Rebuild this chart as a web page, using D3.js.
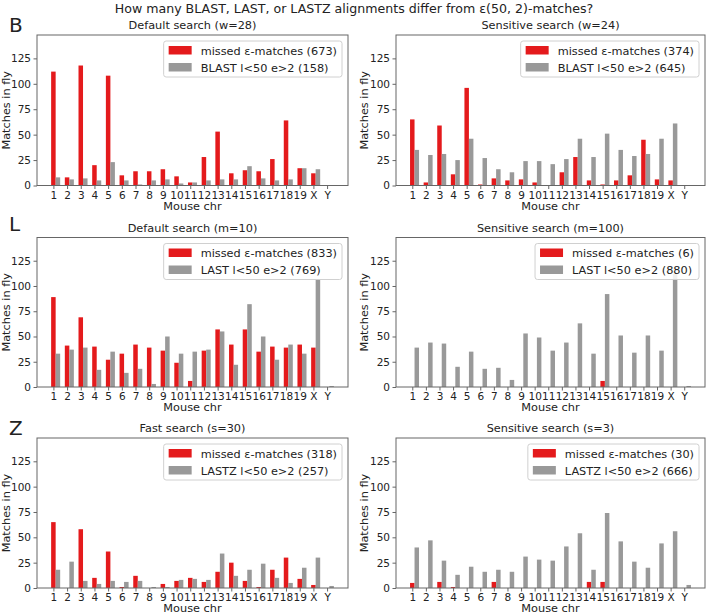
<!DOCTYPE html>
<html>
<head>
<meta charset="utf-8">
<script src="https://cdn.jsdelivr.net/npm/d3@7"></script>
<style>
html,body{margin:0;padding:0;background:#fff;}
text{font-family:"DejaVu Sans",sans-serif;fill:#222;}
</style>
</head>
<body>
<svg id="chart" width="708" height="614"></svg>
<script>
const chromosomes = ["1","2","3","4","5","6","7","8","9","10","11","12","13","14","15","16","17","18","19","X","Y"];
const yTicks = [0, 25, 50, 75, 100, 125];

const blastDefaultMissed = [112,8,118,20,108,10,14,14,16,9,3,28,53,12,15,14,26,64,17,12,0];
const blastDefaultDiff   = [8,6,7,5,23,5,1,5,6,2,3,5,6,6,19,7,5,6,17,16,0];
const blastSensMissed    = [65,3,59,11,96,1,7,5,6,3,0,13,28,5,1,5,10,45,6,5,0];
const blastSensDiff      = [35,30,31,25,46,27,16,13,24,24,21,26,46,28,51,35,29,31,46,61,0];
const lastDefaultMissed  = [89,41,69,40,27,33,42,39,36,24,6,36,57,42,57,35,40,39,42,39,0];
const lastDefaultDiff    = [33,37,39,17,35,14,18,3,50,33,35,37,55,22,82,50,27,42,33,106,1];
const lastSensMissed     = [0,0,0,0,0,0,0,0,0,0,0,0,0,0,6,0,0,0,0,0,0];
const lastSensDiff       = [39,44,43,20,35,18,19,7,53,49,36,44,63,33,92,51,34,51,36,112,1];
const lastzFastMissed    = [65,0,58,10,36,1,12,0,4,7,10,6,16,25,7,1,18,30,9,3,0];
const lastzFastDiff      = [18,26,7,4,7,6,7,1,1,8,9,8,34,12,18,24,10,5,20,30,2];
const lastzSensMissed    = [5,0,6,1,0,0,6,0,0,0,0,0,0,6,6,0,0,0,0,0,0];
const lastzSensDiff      = [40,47,27,13,21,16,18,16,31,28,27,41,54,18,74,46,26,20,44,56,3];

const panelTitles = ["Default search (w=28)","Sensitive search (w=24)","Default search (m=10)","Sensitive search (m=100)","Fast search (s=30)","Sensitive search (s=3)"];
const missedLabels = ["missed ε-matches (673)","missed ε-matches (374)","missed ε-matches (833)","missed ε-matches (6)","missed ε-matches (318)","missed ε-matches (30)"];
const diffLabels = ["BLAST l<50 e>2 (158)","BLAST l<50 e>2 (645)","LAST l<50 e>2 (769)","LAST l<50 e>2 (880)","LASTZ l<50 e>2 (257)","LASTZ l<50 e>2 (666)"];
const rowLetters = ["B","L","Z"];
const missedSeries = [blastDefaultMissed,blastSensMissed,lastDefaultMissed,lastSensMissed,lastzFastMissed,lastzSensMissed];
const diffSeries = [blastDefaultDiff,blastSensDiff,lastDefaultDiff,lastSensDiff,lastzFastDiff,lastzSensDiff];

const RED = "#e41a1c", GRAY = "#999999", SPINE = "#666";
const cols = [{l:37, r:348, yl:6.5}, {l:396, r:705, yl:364.5}];
const rows = [{t:35, b:185.5, letterY:32}, {t:237.5, b:387, letterY:231}, {t:438, b:588, letterY:435}];
const barW = 0.33;

const svg = d3.select("#chart");
svg.append("text").attr("x",354).attr("y",13).attr("text-anchor","middle")
  .style("font-size","12.6px").text("How many BLAST, LAST, or LASTZ alignments differ from ε(50, 2)-matches?");

rows.forEach((row, ri) => {
  svg.append("text").attr("x",9).attr("y",row.letterY).style("font-size","20px").text(rowLetters[ri]);
  cols.forEach((col, ci) => {
    const pi = ri*2 + ci;
    const x = d3.scaleLinear().domain([-1.198, 21.528]).range([col.l, col.r]);
    const y = d3.scaleLinear().domain([0, 148]).range([row.b, row.t]);
    const g = svg.append("g");
    const data = chromosomes.map((c,i)=>({c, i, m: missedSeries[pi][i], d: diffSeries[pi][i]}));
    g.selectAll("rect.m").data(data).join("rect").attr("class","m")
      .attr("x", d => x(d.i - barW/2)).attr("width", x(barW) - x(0))
      .attr("y", d => y(d.m)).attr("height", d => y(0) - y(d.m)).attr("fill", RED);
    g.selectAll("rect.d").data(data).join("rect").attr("class","d")
      .attr("x", d => x(d.i + barW/2)).attr("width", x(barW) - x(0))
      .attr("y", d => y(d.d)).attr("height", d => y(0) - y(d.d)).attr("fill", GRAY);
    g.append("rect").attr("x",col.l).attr("y",row.t).attr("width",col.r-col.l).attr("height",row.b-row.t)
      .attr("fill","none").attr("stroke",SPINE).attr("stroke-width",1);
    const ya = g.append("g").attr("transform",`translate(${col.l},0)`)
      .call(d3.axisLeft(y).tickValues(yTicks).tickSize(3.5).tickPadding(2.5));
    ya.select(".domain").remove();
    ya.selectAll("line").attr("stroke",SPINE);
    ya.selectAll("text").style("font-size","10.5px").attr("fill","#222");
    const xa = g.append("g").attr("transform",`translate(0,${row.b})`)
      .call(d3.axisBottom(x).tickValues(d3.range(chromosomes.length)).tickFormat(i=>chromosomes[i]).tickSize(3.5).tickPadding(2.5));
    xa.select(".domain").remove();
    xa.selectAll("line").attr("stroke",SPINE);
    xa.selectAll("text").style("font-size","10.5px").attr("fill","#222");
    const cx = (col.l+col.r)/2;
    g.append("text").attr("x",cx).attr("y",row.t-6).attr("text-anchor","middle").style("font-size","11.3px").text(panelTitles[pi]);
    g.append("text").attr("x",cx).attr("y",row.b+24).attr("text-anchor","middle").style("font-size","11.3px").text("Mouse chr");
    g.append("text").attr("transform",`translate(${col.yl},${(row.t+row.b)/2}) rotate(-90)`).attr("dy","0.35em")
      .attr("text-anchor","middle").style("font-size","11.3px").text("Matches in fly");
    const lg = g.append("g");
    const box = lg.append("rect").attr("rx",2.5).attr("fill","white").attr("fill-opacity",0.85).attr("stroke","#d0d0d0").attr("stroke-width",1);
    const t1 = lg.append("text").style("font-size","11.3px").text(missedLabels[pi]);
    const t2 = lg.append("text").style("font-size","11.3px").text(diffLabels[pi]);
    const tw = Math.max(t1.node().getComputedTextLength(), t2.node().getComputedTextLength());
    const bw = 37 + tw + 5, bh = 36;
    const bx = col.r - 6 - bw, by = row.t + 6;
    box.attr("x",bx).attr("y",by).attr("width",bw).attr("height",bh);
    lg.append("rect").attr("x",bx+5).attr("y",by+5).attr("width",23).attr("height",8.5).attr("fill",RED);
    lg.append("rect").attr("x",bx+5).attr("y",by+22).attr("width",23).attr("height",8.5).attr("fill",GRAY);
    t1.attr("x",bx+37).attr("y",by+13.5);
    t2.attr("x",bx+37).attr("y",by+30.5);
  });
});
</script>
</body>
</html>
